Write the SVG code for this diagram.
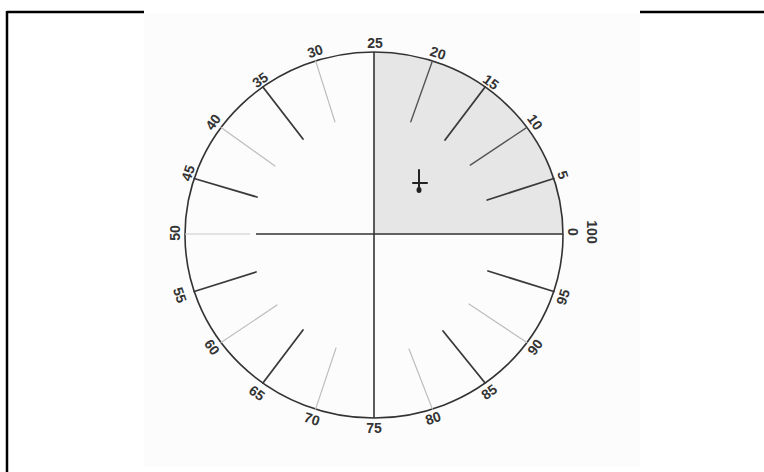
<svg xmlns="http://www.w3.org/2000/svg" width="764" height="472" viewBox="0 0 764 472">
<style>
.lbl{font-family:"Liberation Sans",Arial,sans-serif;font-size:14px;font-weight:bold;fill:#333;text-anchor:middle;dominant-baseline:central}
.dk{stroke:#3a3a3a;stroke-width:1.8;stroke-linecap:round}
.md{stroke:#555;stroke-width:1.4;stroke-linecap:round}
.lt{stroke:#bdbdbd;stroke-width:1.2;stroke-linecap:round}
</style>
<rect x="0" y="0" width="764" height="472" fill="#ffffff"/>
<g id="frame" stroke="#000" stroke-width="2.5" fill="none">
<line x1="7" y1="12" x2="144" y2="12"/>
<line x1="640" y1="12" x2="764" y2="12"/>
<line x1="7" y1="11" x2="7" y2="472"/>
</g>
<rect id="photo" x="144" y="13" width="496" height="453" fill="#fcfcfc"/>
<g id="dial">
<path d="M374,235 L563,235 A189,183 0 0 0 374,52 Z" fill="#e6e6e6"/>
<ellipse cx="374" cy="235" rx="189" ry="183" fill="none" stroke="#333" stroke-width="1.6"/>
<line x1="374" y1="52" x2="374" y2="418" stroke="#333" stroke-width="1.6"/>
<line x1="256" y1="234" x2="563" y2="234" stroke="#333" stroke-width="1.6"/>
<line x1="185" y1="234" x2="250" y2="234" stroke="#c8c8c8" stroke-width="1.2"/>
</g>
<g id="ticks">
<line class="dk" x1="553.8" y1="178.5" x2="487.2" y2="200"/>
<line class="md" x1="526.9" y1="127.4" x2="470.3" y2="165.1"/>
<line class="dk" x1="485.1" y1="87" x2="445" y2="140"/>
<line class="md" x1="432.4" y1="60.9" x2="410.8" y2="121.8"/>
<line class="lt" x1="315.6" y1="60.9" x2="335" y2="122"/>
<line class="dk" x1="262.9" y1="87" x2="303" y2="139"/>
<line class="lt" x1="221.1" y1="127.4" x2="275" y2="166"/>
<line class="dk" x1="194.2" y1="178.5" x2="257" y2="197"/>
<line class="dk" x1="194.2" y1="291.5" x2="256" y2="272"/>
<line class="lt" x1="221.1" y1="342.6" x2="277" y2="305"/>
<line class="dk" x1="262.9" y1="383" x2="303" y2="330"/>
<line class="lt" x1="315.6" y1="409.1" x2="336" y2="348"/>
<line class="lt" x1="432.4" y1="409.1" x2="409" y2="349"/>
<line class="dk" x1="485.1" y1="383" x2="443" y2="331"/>
<line class="lt" x1="526.9" y1="342.6" x2="469" y2="304"/>
<line class="dk" x1="553.8" y1="291.5" x2="488" y2="271"/>
</g>
<g id="symbol" stroke="#222" fill="none" stroke-linecap="round">
<line x1="419" y1="170" x2="419" y2="191" stroke-width="2"/>
<line x1="413" y1="183" x2="427" y2="183" stroke-width="2"/>
<ellipse cx="419" cy="190" rx="2.5" ry="3" fill="#222" stroke="none"/>
</g>
<g id="labels">
<text class="lbl" transform="translate(375,43)">25</text>
<text class="lbl" transform="translate(438,53) rotate(18)">20</text>
<text class="lbl" transform="translate(491,82) rotate(36)">15</text>
<text class="lbl" transform="translate(535,122) rotate(54)">10</text>
<text class="lbl" transform="translate(563,175) rotate(72)">5</text>
<text class="lbl" transform="translate(573,232) rotate(90)">0</text>
<text class="lbl" transform="translate(592,232) rotate(90)">100</text>
<text class="lbl" transform="translate(563,297) rotate(-72)">95</text>
<text class="lbl" transform="translate(535,347) rotate(-54)">90</text>
<text class="lbl" transform="translate(489,392) rotate(-36)">85</text>
<text class="lbl" transform="translate(433,418) rotate(-18)">80</text>
<text class="lbl" transform="translate(374,428)">75</text>
<text class="lbl" transform="translate(312,419) rotate(18)">70</text>
<text class="lbl" transform="translate(257,393) rotate(36)">65</text>
<text class="lbl" transform="translate(212,347) rotate(54)">60</text>
<text class="lbl" transform="translate(180,295) rotate(72)">55</text>
<text class="lbl" transform="translate(175,233) rotate(-90)">50</text>
<text class="lbl" transform="translate(188,173) rotate(-72)">45</text>
<text class="lbl" transform="translate(213,122) rotate(-54)">40</text>
<text class="lbl" transform="translate(260,80) rotate(-36)">35</text>
<text class="lbl" transform="translate(315,51) rotate(-18)">30</text>
</g>
</svg>
